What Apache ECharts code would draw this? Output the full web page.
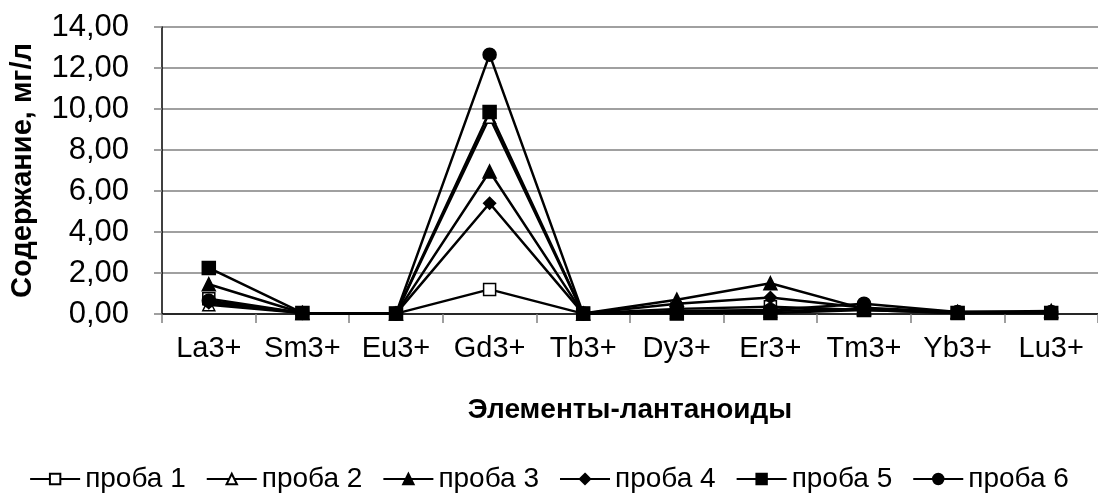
<!DOCTYPE html>
<html>
<head>
<meta charset="utf-8">
<script src="https://cdn.jsdelivr.net/npm/echarts@6/dist/echarts.min.js"></script>
<style>
html,body{margin:0;padding:0;background:#fff;}
#chart{width:1098px;height:500px;}
</style>
</head>
<body>
<div id="chart"></div>
<script>
const categories = ['La3+', 'Sm3+', 'Eu3+', 'Gd3+', 'Tb3+', 'Dy3+', 'Er3+', 'Tm3+', 'Yb3+', 'Lu3+'];
const yTicks = [0, 2, 4, 6, 8, 10, 12, 14];
const seriesNames = ['проба 1', 'проба 2', 'проба 3', 'проба 4', 'проба 5', 'проба 6'];
const proba1 = [0.75, 0.05, 0.02, 1.20, 0.02, 0.25, 0.35, 0.20, 0.05, 0.05];
const proba2 = [0.45, 0.05, 0.02, 9.60, 0.02, 0.10, 0.15, 0.25, 0.05, 0.10];
const proba3 = [1.45, 0.05, 0.02, 6.95, 0.02, 0.70, 1.50, 0.25, 0.10, 0.15];
const proba4 = [0.55, 0.05, 0.02, 5.40, 0.02, 0.50, 0.80, 0.30, 0.10, 0.10];
const proba5 = [2.25, 0.05, 0.02, 9.85, 0.02, 0.02, 0.05, 0.20, 0.05, 0.05];
const proba6 = [0.65, 0.05, 0.02, 12.65, 0.02, 0.15, 0.20, 0.50, 0.10, 0.10];

const FONT = '"Liberation Sans", Arial, sans-serif';
const diamond = 'path://M0,-1L1,0L0,1L-1,0Z';
const styles = [
  {symbol: 'rect', size: 12, fill: '#ffffff'},
  {symbol: 'triangle', size: 12, fill: '#ffffff'},
  {symbol: 'triangle', size: 13, fill: '#000000'},
  {symbol: diamond, size: 12, fill: '#000000'},
  {symbol: 'rect', size: 13, fill: '#000000'},
  {symbol: 'circle', size: 13, fill: '#000000'}
];
const dataSets = [proba1, proba2, proba3, proba4, proba5, proba6];

const series = dataSets.map((d, i) => ({
  name: seriesNames[i],
  type: 'line',
  data: d,
  symbol: styles[i].symbol,
  symbolSize: styles[i].size,
  showAllSymbol: true,
  lineStyle: {color: '#000', width: 2.5},
  itemStyle: {color: styles[i].fill, borderColor: '#000', borderWidth: 1.5},
  emphasis: {disabled: true},
  animation: false,
  z: 2 + i
}));

const chart = echarts.init(document.getElementById('chart'), null, {renderer: 'canvas'});
chart.setOption({
  animation: false,
  grid: {left: 159, top: 27, width: 949, bottom: 186, containLabel: false},
  xAxis: {
    type: 'category',
    data: categories,
    boundaryGap: true,
    axisLine: {lineStyle: {color: '#000', width: 1.5}},
    axisTick: {show: true, interval: 0, length: 9, lineStyle: {color: '#808080', width: 1.5}},
    axisLabel: {interval: 0, margin: 20, fontSize: 29, color: '#000', fontFamily: FONT},
    name: 'Элементы-лантаноиды',
    nameLocation: 'middle',
    nameGap: 82,
    nameTextStyle: {fontSize: 28, fontWeight: 'bold', color: '#000', fontFamily: FONT},
    splitLine: {show: false}
  },
  yAxis: {
    type: 'value',
    min: 0,
    max: 14,
    interval: 2,
    axisLine: {show: true, lineStyle: {color: '#000', width: 1.5}},
    axisTick: {show: true, length: 8, lineStyle: {color: '#808080', width: 1.5}},
    axisLabel: {
      margin: 33, fontSize: 31, color: '#000', fontFamily: FONT,
      formatter: v => yTicks.indexOf(v) >= 0 ? v.toFixed(2).replace('.', ',') : ''
    },
    splitLine: {show: true, lineStyle: {color: '#808080', width: 1.5}},
    name: 'Содержание, мг/л',
    nameLocation: 'middle',
    nameGap: 125,
    nameRotate: 90,
    nameTextStyle: {fontSize: 29, fontWeight: 'bold', color: '#000', fontFamily: FONT}
  },
  legend: {
    bottom: 2,
    left: 558,
    left: 'center',
    itemWidth: 50,
    itemHeight: 13,
    itemGap: 20,
    textStyle: {fontSize: 28, color: '#000', fontFamily: FONT},
    data: seriesNames
  },
  series: series
});
</script>
</body>
</html>
